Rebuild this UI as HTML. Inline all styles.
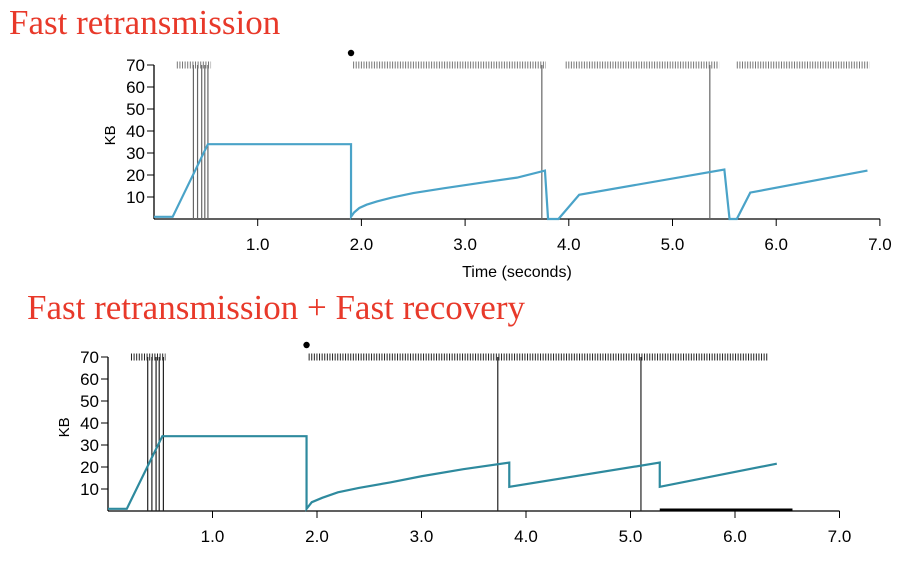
<!DOCTYPE html>
<html><head><meta charset="utf-8"><style>
body{margin:0;background:#fff;width:920px;height:566px;overflow:hidden}
svg text{font-family:"Liberation Sans",sans-serif}
.t{font-family:"Liberation Serif",serif;fill:#e8392a;font-size:35px}
</style></head><body>
<svg id="s" width="920" height="566">
<text class="t" x="9" y="34">Fast retransmission</text>
<text class="t" x="27" y="319">Fast retransmission + Fast recovery</text>
</svg>
<script>
const yTicks=[10,20,30,40,50,60,70];
const xTicks=[1,2,3,4,5,6,7];
const xTickLabels=["1.0","2.0","3.0","4.0","5.0","6.0","7.0"];
const topT=[0,0.18,0.52,1.9,1.9,1.93,1.98,2.05,2.15,2.3,2.5,2.8,3.2,3.5,3.77,3.8,3.9,4.1,5.5,5.55,5.62,5.75,6.88];
const topV=[1,1,34,34,1,3,5,6.5,8,9.8,11.8,14,16.8,18.8,22,0,0,11,22.5,0,0,12,22];
const topLoss=[0.38,0.42,0.46,0.49,0.52,3.74,5.36];
const topSendRanges=[[0.22,0.55],[1.92,3.78],[3.97,5.45],[5.62,6.9]];
const botT=[0,0.18,0.52,1.9,1.9,1.95,2.05,2.2,2.4,2.7,3.0,3.4,3.84,3.84,5.28,5.28,6.4];
const botV=[1,1,34,34,1,4,6,8.5,10.5,13,15.8,19,22,11,22,11,21.5];
const botLoss=[0.38,0.42,0.46,0.49,0.53,3.73,5.1];
const botSendRanges=[[0.22,0.55],[1.92,6.32]];
const NS="http://www.w3.org/2000/svg";
const svg=document.getElementById('s');
function el(tag,a,parent){const e=document.createElementNS(NS,tag);for(const k in a)e.setAttribute(k,a[k]);(parent||svg).appendChild(e);return e;}
function chart(cfg,T,V,loss,ranges,name,color,showTitle){
  const g=el('g',{});
  
  
  const X=t=>cfg.x0+t*cfg.sx, Y=v=>cfg.y0-v*cfg.sy;
  el('line',{x1:X(0),y1:Y(0),x2:X(7),y2:Y(0),stroke:'#000','stroke-width':1.3},g);
  el('line',{x1:X(0),y1:Y(0),x2:X(0),y2:Y(70),stroke:'#000','stroke-width':1.3},g);
  yTicks.forEach(v=>{
    el('line',{x1:X(0)-7,y1:Y(v),x2:X(0),y2:Y(v),stroke:'#000'},g);
    const tx=el('text',{x:X(0)-9,y:Y(v)+6,'text-anchor':'end','font-size':17},g);tx.textContent=v;
    
    
  });
  xTicks.forEach((v,i)=>{
    el('line',{x1:X(v),y1:Y(0),x2:X(v),y2:Y(0)+7,stroke:'#000'},g);
    const tx=el('text',{x:X(v),y:Y(0)+31,'text-anchor':'middle','font-size':17},g);tx.textContent=xTickLabels[i];
    
    
  });
  const yl=el('text',{x:0,y:0,'font-size':15,transform:`translate(${X(0)-39},${Y(38)}) rotate(-90)`,'text-anchor':'middle'},g);yl.textContent='KB';
  
  
  if(showTitle){const xl=el('text',{x:X(3.5),y:Y(0)+58,'text-anchor':'middle','font-size':16},g);xl.textContent='Time (seconds)';
    
    }
  loss.forEach(t=>{const l=el('line',{x1:X(t),y1:Y(0),x2:X(t),y2:Y(70),stroke:cfg.lossColor,'stroke-width':1.2},g);
    
    });
  ranges.forEach(r=>{const l=el('line',{x1:X(r[0]),y1:Y(70),x2:X(r[1]),y2:Y(70),stroke:cfg.tickColor,'stroke-width':7,'stroke-dasharray':'1 1.6'},g);
    
    });
  const d=el('circle',{cx:X(1.9),cy:Y(70)-12,r:3.2,fill:'#000'},g);
  
  
  const p=el('polyline',{points:T.map((t,i)=>X(t)+','+Y(V[i])).join(' '),fill:'none',stroke:color,'stroke-width':2.2},g);
  
  
  return {g,X,Y};
}
chart({x0:154,sx:103.7,y0:219,sy:2.2,lossColor:'#666',tickColor:'#777'},topT,topV,topLoss,topSendRanges,'chart-fast-retransmission','#4aa3c8',true);
const b=chart({x0:108,sx:104.5,y0:511,sy:2.2,lossColor:'#222',tickColor:'#222'},botT,botV,botLoss,botSendRanges,'chart-fast-recovery','#2e8a9e',false);
const bl=el('line',{x1:b.X(5.28),y1:b.Y(0)-1,x2:b.X(6.55),y2:b.Y(0)-1,stroke:'#000','stroke-width':3},b.g);


</script>
</body></html>
